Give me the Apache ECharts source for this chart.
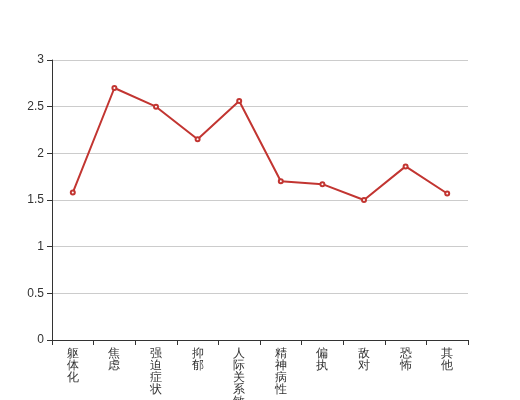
<!DOCTYPE html>
<html>
<head>
<meta charset="utf-8">
<script src="https://cdn.jsdelivr.net/npm/echarts@6/dist/echarts.min.js"></script>
<style>
  html, body { margin: 0; padding: 0; background: #fff; }
</style>
</head>
<body>
<div id="main" style="width: 520px; height: 400px"></div>
<script>
// 因子名称
const factors = ['躯体化', '焦虑', '强迫症状', '抑郁', '人际关系敏感', '精神病性', '偏执', '敌对', '恐怖', '其他']
// 因子得分
const scores = [1.58, 2.70, 2.50, 2.15, 2.56, 1.70, 1.67, 1.50, 1.86, 1.57]

const myChart = echarts.init(document.getElementById('main'))
const option = {
  animation: false,
  textStyle: { fontFamily: 'sans-serif' },
  grid: {
    left: 52,
    right: 52,
    top: 60,
    bottom: 60,
    containLabel: false,
    outerBoundsMode: 'none'
  },
  xAxis: {
    type: 'category',
    data: factors,
    axisLine: { lineStyle: { color: '#333' } },
    axisTick: { show: true, lineStyle: { color: '#333' } },
    axisLabel: {
      color: '#333',
      fontSize: 12,
      lineHeight: 12,
      interval: 0,
      margin: 8,
      formatter: function (v) {
        return v.split('').join('\n')
      }
    }
  },
  yAxis: {
    type: 'value',
    min: 0,
    max: 3,
    interval: 0.5,
    axisLine: { show: true, lineStyle: { color: '#333' } },
    axisTick: { show: true, lineStyle: { color: '#333' } },
    axisLabel: { color: '#333', fontSize: 12 },
    splitLine: { lineStyle: { color: '#ccc' } }
  },
  series: [
    {
      type: 'line',
      data: scores,
      symbol: 'emptyCircle',
      symbolSize: 4,
      itemStyle: { color: '#c23531' },
      lineStyle: { color: '#c23531', width: 2 }
    }
  ]
}
myChart.setOption(option)
</script>
</body>
</html>
